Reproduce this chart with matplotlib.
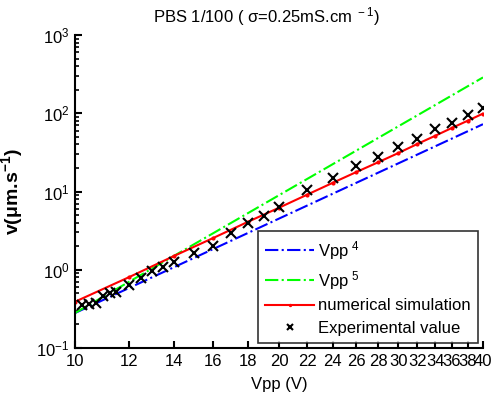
import matplotlib
matplotlib.use("Agg")
import matplotlib.pyplot as plt

plt.rcParams['font.family'] = ['Liberation Sans', 'DejaVu Sans']
plt.rcParams['mathtext.default'] = 'regular'

# Power-law reference lines (endpoints)
vpp4_x = [10, 40]
vpp4_y = [0.28, 72.5]
vpp5_x = [10, 40]
vpp5_y = [0.28, 287]

# Numerical simulation
sim_x = [10, 12, 14, 16, 18, 20, 22, 24, 26, 28, 30, 32, 34, 36, 38, 40]
sim_y = [0.39, 0.80, 1.5, 2.55, 4.1, 6.2, 9.1, 12.9, 17.7, 23.6, 31.0, 40.5, 51.5, 65.0, 80.5, 99.0]

# Experimental values
exp_x = [10.25, 10.5, 10.75, 11, 11.25, 11.5, 12, 12.5, 13, 13.5, 14, 15, 16, 17, 18, 19, 20,
         22, 24, 26, 28, 30, 32, 34, 36, 38, 40]
exp_y = [0.35, 0.37, 0.38, 0.46, 0.50, 0.52, 0.64, 0.78, 0.97, 1.09, 1.26, 1.65, 2.03, 2.92,
         3.91, 4.85, 6.27, 10.4, 14.7, 21.3, 27.3, 36.6, 47.1, 62.1, 74.1, 94.6, 117]

xticks = [10, 12, 14, 16, 18, 20, 22, 24, 26, 28, 30, 32, 34, 36, 38, 40]

W, H = 492, 397
fig = plt.figure(figsize=(W / 100, H / 100), dpi=100)
ax = fig.add_axes([75 / W, 1 - 348 / H, (483 - 75) / W, (348 - 35) / H])

ax.plot(vpp4_x, vpp4_y, color='#0000ff', linestyle='-.', linewidth=1.5, label='Vpp$^{\\ 4}$')
ax.plot(vpp5_x, vpp5_y, color='#00ff00', linestyle='-.', linewidth=1.5, label='Vpp$^{\\ 5}$')
ax.plot(sim_x, sim_y, color='#ff0000', linestyle='-', linewidth=1.5, marker='.', markersize=4,
        label='numerical simulation')
ax.plot(exp_x, exp_y, color='black', linestyle='none', marker='x', markersize=7,
        markeredgewidth=1.5, label='Experimental value')

ax.set_xscale('log')
ax.set_yscale('log')
ax.set_xlim(10, 40)
ax.set_ylim(0.1, 1000)
ax.set_xticks(xticks)
ax.set_xticklabels([str(t) for t in xticks])
ax.xaxis.set_minor_locator(matplotlib.ticker.NullLocator())

for s in ['top', 'right']:
    ax.spines[s].set_visible(False)
for s in ['left', 'bottom']:
    ax.spines[s].set_linewidth(1.5)
ax.tick_params(axis='both', which='major', direction='in', length=5, width=1.5,
               labelsize=12, pad=4)
ax.tick_params(axis='y', which='minor', direction='in', length=3, width=1.2)

ax.set_xlabel('Vpp (V)', fontsize=12, labelpad=6)
ax.set_ylabel('v(μm.s$^{-1}$)', fontsize=14, fontweight='bold', labelpad=8)
fig.text(267 / W, 1 - 17 / H, 'PBS 1/100 ( σ=0.25mS.cm$^{\\ -1}$)', ha='center', va='center',
         fontsize=12)

leg = ax.legend(loc='lower right', bbox_to_anchor=(478 / W, 1 - 343 / H),
                bbox_transform=fig.transFigure, fontsize=12, frameon=True, fancybox=False,
                edgecolor='black', handlelength=2.9, handletextpad=0.25, borderpad=0.45,
                labelspacing=0.42, borderaxespad=0, markerscale=0.7)
leg.get_frame().set_linewidth(1.2)

fig.savefig('out.png', dpi=100)
